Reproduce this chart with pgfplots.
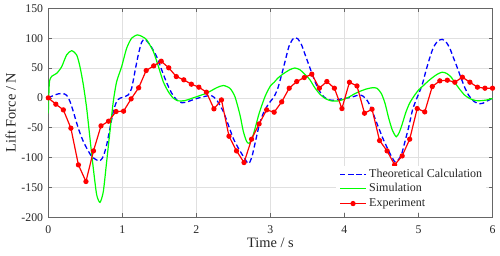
\documentclass[border=0pt]{standalone}
\usepackage{pgfplots}
\pgfplotsset{compat=1.18}
\usepackage{fontspec}
\setmainfont{Liberation Serif}
\definecolor{axgray}{gray}{0.4}
\definecolor{txtgray}{gray}{0.15}
\definecolor{grdgray}{gray}{0.88}
\begin{document}
\begin{tikzpicture}
\begin{axis}[
  scale only axis,
  width=444.2pt, height=209pt,
  xmin=0, xmax=6, ymin=-200, ymax=150,
  xtick={0,1,2,3,4,5,6},
  ytick={-200,-150,-100,-50,0,50,100,150},
  /pgf/number format/assume math mode=true,
  tick label style={font=\fontsize{11.8}{14}\selectfont, text=txtgray},
  xticklabel style={anchor=base, inner sep=0pt, yshift=-16.2pt},
  yticklabel style={anchor=east, inner sep=0pt, xshift=-5pt},
  tick align=inside,
  major tick length=4pt,
  every tick/.style={axgray, line width=0.5pt},
  axis line style={axgray, line width=0.6pt},
  grid=major,
  major grid style={grdgray, line width=0.5pt},
  xlabel={Time / s},
  ylabel={Lift Force / N},
  label style={font=\fontsize{14.4}{16}\selectfont, text=txtgray, inner sep=0pt},
  xlabel style={at={(axis description cs:0.5,0)}, anchor=base, yshift=-30.2pt},
  ylabel style={at={(axis description cs:0,0.5)}, anchor=base, yshift=32.6pt},
  legend cell align=left,
  legend style={at={(0.6462,0.2473)}, anchor=north west, draw=none, fill=white,
    inner xsep=4pt, inner ysep=1pt, column sep=2.7pt,
    font=\fontsize{12}{14}\selectfont, text=txtgray,
    nodes={inner sep=0pt, text height=10.2pt, text depth=4.5pt}},
  legend image code/.code={\draw[mark repeat=2,mark phase=2,#1] plot coordinates {(0pt,0pt) (12.85pt,0pt) (25.7pt,0pt)};},
]
\addplot[blue, line width=1.3pt, dash pattern=on 5pt off 3pt, smooth, tension=0.4] coordinates {
(0,0) (0.07,4) (0.135,6.7) (0.2,7.3) (0.25,4) (0.293,-6) (0.338,-23) (0.383,-42) (0.428,-59) (0.473,-73) (0.518,-84) (0.585,-98) (0.653,-104) (0.698,-105.5) (0.743,-98) (0.788,-79) (0.833,-51) (0.878,-23) (0.923,-6) (0.968,-0.6) (1.035,2) (1.08,5) (1.126,16) (1.17,44) (1.215,72) (1.26,93) (1.305,98) (1.373,89) (1.464,69) (1.531,47) (1.6,25) (1.666,8) (1.734,-3.4) (1.8,-8) (1.868,-7) (1.98,-2) (2.1,2) (2.2,4) (2.274,-3.4) (2.364,-23) (2.431,-45) (2.499,-68) (2.566,-84) (2.634,-98) (2.68,-107) (2.71,-110) (2.75,-99) (2.80,-72) (2.85,-45) (2.90,-27) (2.95,-15) (3.00,-6) (3.05,2) (3.10,16) (3.15,38) (3.20,62) (3.25,86) (3.30,98) (3.335,101) (3.37,99) (3.42,89) (3.47,72) (3.52,55) (3.57,38) (3.62,22) (3.67,10) (3.72,2) (3.78,-3) (3.85,-4) (3.95,-2) (4.05,0) (4.12,2) (4.2,5) (4.25,3) (4.30,-3) (4.35,-14) (4.43,-40) (4.52,-68) (4.61,-92) (4.68,-107) (4.72,-105) (4.77,-95) (4.82,-72) (4.87,-48) (4.92,-20) (4.97,-3) (5.02,12) (5.06,26) (5.10,45) (5.15,66) (5.20,84) (5.26,95) (5.32,98) (5.37,94) (5.42,84) (5.47,68) (5.52,52) (5.57,35) (5.63,16) (5.68,4) (5.75,-6) (5.82,-10) (5.87,-9) (5.93,-5) (6.0,-1)
};
\addlegendentry{Theoretical Calculation}
\addplot[green, line width=1.2pt, smooth, tension=0.4] coordinates {
(0,-26) (0.014,25) (0.045,36) (0.113,41) (0.18,52) (0.248,72) (0.315,79) (0.383,72) (0.428,52) (0.473,22) (0.518,-17) (0.563,-68) (0.608,-118) (0.653,-162) (0.698,-175) (0.743,-157) (0.788,-107) (0.833,-56) (0.878,-6) (0.923,27) (0.99,52) (1.058,83) (1.126,100) (1.207,105.5) (1.283,101.6) (1.33,97) (1.418,78) (1.486,53) (1.553,27) (1.62,10.6) (1.688,-0.5) (1.756,-5) (1.846,-4.5) (1.98,1) (2.14,8) (2.274,17) (2.364,20.7) (2.454,16) (2.521,2) (2.589,-28.5) (2.634,-56) (2.679,-73) (2.715,-76) (2.76,-65) (2.80,-48) (2.85,-25) (2.93,3) (3.0,20) (3.05,26) (3.10,33) (3.17,40) (3.26,47) (3.33,50) (3.40,47) (3.46,40) (3.53,31) (3.60,17) (3.67,6) (3.74,-1) (3.82,-5) (3.92,-5) (4.0,-2) (4.07,2) (4.14,7) (4.21,11) (4.30,15) (4.38,17) (4.44,16) (4.50,7) (4.55,-10) (4.60,-35) (4.65,-55) (4.70,-65) (4.74,-58) (4.78,-44) (4.83,-24) (4.88,-9) (4.94,3) (5.0,13) (5.07,21) (5.13,28) (5.2,35) (5.26,40) (5.32,43) (5.38,41) (5.44,35) (5.50,24) (5.56,14) (5.62,5) (5.69,-1) (5.77,-4.5) (5.87,-4.5) (5.94,-3) (6.0,-1)
};
\addlegendentry{Simulation}
\addplot[red, line width=1.2pt, mark=*, mark size=2pt, mark options={solid, fill=red}] coordinates {
(0,0) (0.1017,-10.6) (0.2034,-20.1) (0.3051,-50.8) (0.4068,-112.2) (0.5085,-140.1) (0.6102,-88.8) (0.7119,-46.9) (0.8136,-39.1) (0.9153,-22.9) (1.0169,-22.3) (1.1186,-1.7) (1.2203,16.8) (1.3220,45.8) (1.4237,53.6) (1.5254,61.4) (1.6271,50.3) (1.7288,35.7) (1.8305,30.2) (1.9322,22.9) (2.0339,17.9) (2.1356,9.5) (2.2373,-18.4) (2.3390,-3.4) (2.4407,-64.2) (2.5424,-88.8) (2.6441,-108.3) (2.7458,-69.2) (2.8475,-43.6) (2.9492,-20.1) (3.0508,-24) (3.1525,-6.7) (3.2542,16.2) (3.3559,27.4) (3.4576,34) (3.5593,39.7) (3.6610,16.2) (3.7627,27.4) (3.8644,16.2) (3.9661,-17.9) (4.0678,26.2) (4.1695,20) (4.2712,-25.7) (4.3729,-19) (4.4746,-71.5) (4.5763,-88.8) (4.6780,-112.2) (4.7797,-97.2) (4.8814,-69.2) (4.9831,-17.9) (5.0847,-23.5) (5.1864,19) (5.2881,28.5) (5.3898,29.6) (5.4915,26.2) (5.5932,34.6) (5.6949,26.2) (5.7966,17.9) (5.8983,16.2) (6.0,16.2)
};
\addlegendentry{Experiment}
\end{axis}
\path ([xshift=-48.3pt,yshift=-38.7pt]current axis.south west) rectangle ([xshift=7.5pt,yshift=8.3pt]current axis.north east);
\end{tikzpicture}
\end{document}
